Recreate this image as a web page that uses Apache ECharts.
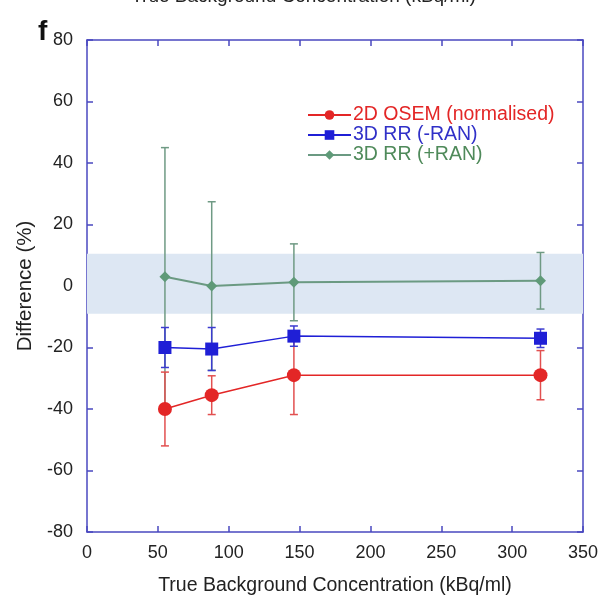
<!DOCTYPE html>
<html><head><meta charset="utf-8">
<script src="https://cdn.jsdelivr.net/npm/echarts@6/dist/echarts.min.js"></script>
<style>html,body{margin:0;padding:0;background:#fff}#c{width:607px;height:601px}</style>
</head><body><div id="c"></div>
<script>
const conc = [55, 88, 146, 320];
const osem = [-40, -35.5, -29, -29];
const osemErr = [12, 6.3, 12.8, 8];
const rrMinus = [-20, -20.5, -16.3, -17];
const rrMinusErr = [6.5, 7, 3.3, 3];
const rrPlus = [3, 0, 1.2, 1.7];
const rrPlusErr = [42, 27.4, 12.5, 9.2];
const band = [-9, 10.5];
const xTicks = {min: 0, max: 350, interval: 50};
const yTicks = {min: -80, max: 80, interval: 20};

const axisColor = '#4a48c0';
const font = 'Liberation Sans, Arial, sans-serif';
const cRed = '#e32626', cBlue = '#1f1fd6', cGreenLine = '#6b9a82', cGreenText = '#4f8a5a';

function errSeries(vals, errs, color, z) {
  return {
    type: 'custom', z: z, silent: true,
    data: conc.map((x, i) => [x, vals[i] - errs[i], vals[i] + errs[i]]),
    renderItem: function (params, api) {
      const lo = api.coord([api.value(0), api.value(1)]);
      const hi = api.coord([api.value(0), api.value(2)]);
      const w = 4;
      const st = {stroke: color, lineWidth: 1.5};
      return {type: 'group', children: [
        {type: 'line', shape: {x1: lo[0], y1: lo[1], x2: hi[0], y2: hi[1]}, style: st},
        {type: 'line', shape: {x1: lo[0]-w, y1: lo[1], x2: lo[0]+w, y2: lo[1]}, style: st},
        {type: 'line', shape: {x1: hi[0]-w, y1: hi[1], x2: hi[0]+w, y2: hi[1]}, style: st}
      ]};
    }
  };
}

const chart = echarts.init(document.getElementById('c'));
function axisCommon() {
  return {
    axisLine: {show: true, onZero: false, lineStyle: {color: axisColor, width: 1.5}},
    axisTick: {show: true, inside: true, length: 6, lineStyle: {color: axisColor, width: 1.5}},
    splitLine: {show: false}
  };
}
chart.setOption({
  animation: false,
  textStyle: {fontFamily: font},
  grid: {left: 87, top: 40, right: 24, bottom: 68},
  graphic: [
    {type: 'text', left: 'center', top: -13, style: {text: 'True Background Concentration (kBq/ml)', font: '19px ' + font, fill: '#222'}},
    {type: 'text', left: 38, top: 18, style: {text: 'f', font: 'bold 28px ' + font, fill: '#111'}}
  ],
  legend: {
    left: 302, top: 100, orient: 'vertical', itemGap: 0, itemWidth: 43, itemHeight: 12,
    textStyle: {fontSize: 19.5, lineHeight: 18.5, fontFamily: font, padding: [0, 0, 0, -3]},
    data: [
      {name: '2D OSEM (normalised)', textStyle: {color: cRed}},
      {name: '3D RR (-RAN)', textStyle: {color: '#3030c8'}},
      {name: '3D RR (+RAN)', textStyle: {color: cGreenText}}
    ]
  },
  xAxis: [
    Object.assign({type: 'value', position: 'bottom', min: xTicks.min, max: xTicks.max, interval: xTicks.interval,
      name: 'True Background Concentration (kBq/ml)', nameLocation: 'middle', nameGap: 44,
      nameTextStyle: {fontSize: 19.5, color: '#222', fontFamily: font},
      axisLabel: {fontSize: 18, color: '#222', margin: 12}}, axisCommon()),
    Object.assign({type: 'value', position: 'top', min: xTicks.min, max: xTicks.max, interval: xTicks.interval,
      axisLabel: {show: false}}, axisCommon())
  ],
  yAxis: [
    Object.assign({type: 'value', position: 'left', min: yTicks.min, max: yTicks.max, interval: yTicks.interval,
      name: 'Difference (%)', nameLocation: 'middle', nameGap: 50,
      nameTextStyle: {fontSize: 20.5, color: '#222', fontFamily: font},
      axisLabel: {fontSize: 18, color: '#222', margin: 14}}, axisCommon()),
    Object.assign({type: 'value', position: 'right', min: yTicks.min, max: yTicks.max, interval: yTicks.interval,
      axisLabel: {show: false}}, axisCommon())
  ],
  series: [
    {type: 'line', data: [], silent: true, z: 1,
      markArea: {silent: true, itemStyle: {color: '#dde7f3'}, data: [[{yAxis: band[0]}, {yAxis: band[1]}]]}},
    errSeries(rrPlus, rrPlusErr, '#6f9a84', 2),
    errSeries(osem, osemErr, '#e25050', 3),
    errSeries(rrMinus, rrMinusErr, '#3b3bd0', 4),
    {name: '3D RR (+RAN)', type: 'line', z: 5, data: conc.map((x, i) => [x, rrPlus[i]]),
      symbol: 'diamond', symbolSize: 11, lineStyle: {color: cGreenLine, width: 2},
      itemStyle: {color: '#5f9a78'}},
    {name: '2D OSEM (normalised)', type: 'line', z: 6, data: conc.map((x, i) => [x, osem[i]]),
      symbol: 'circle', symbolSize: 14, lineStyle: {color: cRed, width: 1.5}, itemStyle: {color: cRed}},
    {name: '3D RR (-RAN)', type: 'line', z: 7, data: conc.map((x, i) => [x, rrMinus[i]]),
      symbol: 'rect', symbolSize: 13, lineStyle: {color: cBlue, width: 1.5}, itemStyle: {color: cBlue}}
  ]
});
</script></body></html>
